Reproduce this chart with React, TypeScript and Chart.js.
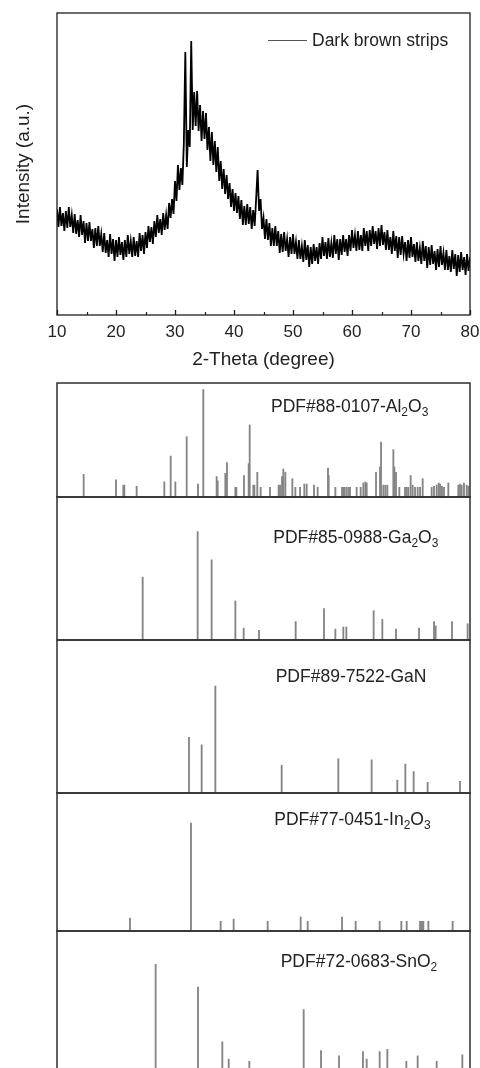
import React, { useEffect, useRef } from 'react';
import { Chart, registerables } from 'chart.js';

Chart.register(...registerables);

const FONT = '"Liberation Sans", Arial, Helvetica, sans-serif';
Chart.defaults.font.family = FONT;
Chart.defaults.color = '#222';

// ---------- XRD scan (top panel) ----------
const scanStart = 10; // 2-theta of first point (degree)
const scanStep = 0.25; // degree per point
const intensity = [
  106, 88, 108, 89, 102, 84, 104, 87,
  108, 88, 100, 82, 101, 81, 95, 78,
  100, 80, 94, 72, 92, 74, 93, 74,
  86, 67, 87, 69, 89, 69, 81, 63,
  82, 62, 75, 58, 81, 61, 76, 54,
  75, 58, 78, 60, 73, 55, 75, 58,
  80, 61, 74, 58, 78, 59, 74, 58,
  82, 64, 80, 61, 83, 67, 89, 73,
  88, 71, 94, 78, 100, 82, 96, 80,
  102, 85, 100, 86, 112, 97, 116, 101,
  134, 114, 150, 125, 147, 130, 172, 263,
  148, 185, 168, 274, 185, 223, 189, 224,
  184, 210, 174, 204, 176, 202, 165, 188,
  154, 183, 150, 174, 143, 168, 134, 154,
  126, 146, 121, 140, 116, 132, 108, 126,
  104, 122, 102, 119, 96, 115, 90, 109,
  90, 111, 91, 108, 86, 105, 89, 116,
  145, 104, 116, 86, 97, 76, 96, 75,
  92, 69, 87, 69, 89, 69, 84, 62,
  81, 63, 83, 64, 76, 58, 78, 61,
  81, 61, 73, 56, 75, 56, 69, 53,
  75, 55, 70, 48, 68, 51, 71, 54,
  68, 51, 72, 56, 78, 59, 73, 56,
  77, 58, 72, 57, 80, 61, 76, 55,
  76, 60, 80, 63, 76, 59, 80, 64,
  85, 67, 80, 64, 84, 65, 80, 64,
  87, 69, 84, 64, 85, 69, 89, 71,
  84, 66, 87, 69, 90, 70, 83, 65,
  85, 65, 78, 61, 84, 64, 79, 57,
  78, 60, 79, 61, 73, 54, 75, 57,
  78, 58, 71, 53, 73, 54, 67, 51,
  74, 54, 69, 47, 68, 50, 70, 51,
  64, 45, 66, 48, 69, 50, 62, 45,
  65, 45, 59, 43, 65, 46, 61, 39,
  60, 43, 63, 45, 58, 40, 61, 44,
  58,
];
const seriesName = 'Dark brown strips';
const xMin = 10;
const xMax = 80;
const majorStep = 10;
const minorTicks = [15, 25, 35, 45, 55, 65, 75];
const yMaxTop = 302;

// ---------- Reference patterns (PDF cards) ----------
const al2o3Theta = [14.52, 20.0, 21.24, 21.41, 23.5, 28.19, 29.27, 30.06, 31.98, 33.9, 34.8, 37.06, 37.23, 38.53, 38.81, 40.23, 40.4, 41.69, 42.49, 42.66, 43.28, 43.45, 43.95, 44.52, 46.1, 47.57, 47.8, 48.14, 48.36, 48.7, 49.89, 50.4, 51.19, 51.92, 52.32, 53.56, 54.18, 55.93, 56.05, 57.18, 58.31, 58.53, 58.76, 59.1, 59.44, 59.66, 60.79, 61.47, 61.92, 62.26, 62.49, 64.07, 64.75, 64.92, 65.31, 65.65, 65.99, 67.01, 67.18, 67.46, 68.02, 68.98, 69.27, 69.55, 69.94, 70.28, 70.68, 71.13, 71.53, 71.98, 73.5, 73.9, 74.35, 74.69, 74.92, 75.25, 75.59, 76.33, 78.02, 78.31, 78.59, 78.98, 79.44, 79.72];
const al2o3Int = [21, 16, 11, 11, 10, 14, 38, 14, 56, 12, 100, 19, 15, 22, 32, 9, 9, 20, 31, 67, 11, 11, 23, 9, 9, 11, 11, 19, 26, 23, 17, 9, 9, 12, 12, 11, 9, 27, 20, 9, 9, 9, 9, 9, 9, 9, 9, 9, 13, 14, 13, 23, 28, 51, 11, 11, 11, 44, 28, 23, 9, 9, 9, 9, 20, 11, 9, 9, 9, 17, 9, 10, 11, 13, 12, 10, 9, 13, 11, 12, 11, 13, 11, 10];

const ga2o3Theta = [24.52, 33.84, 36.21, 40.23, 41.64, 44.24, 50.45, 55.25, 57.18, 58.53, 59.04, 63.67, 65.14, 67.46, 71.36, 73.9, 74.18, 76.95, 79.6];
const ga2o3Int = [58, 100, 74, 36, 11, 9, 17, 29, 10, 12, 12, 27, 19, 10, 11, 17, 13, 17, 15];

const ganTheta = [32.37, 34.52, 36.84, 48.08, 57.68, 63.33, 67.68, 69.04, 70.45, 72.82, 78.31];
const ganInt = [52, 45, 100, 26, 32, 31, 12, 27, 20, 10, 11];

const in2o3Theta = [22.37, 32.71, 37.74, 39.94, 45.71, 51.3, 52.49, 58.31, 60.62, 64.69, 68.36, 69.27, 71.53, 71.86, 72.09, 72.94, 77.06];
const in2o3Int = [12, 100, 9, 11, 9, 13, 9, 13, 9, 9, 9, 9, 9, 9, 9, 9, 9];

const sno2Theta = [26.72, 33.9, 38.02, 39.1, 42.6, 51.81, 54.75, 57.8, 61.86, 62.49, 64.69, 65.99, 69.21, 71.13, 74.35, 78.7];
const sno2Int = [100, 79, 28, 12, 10, 58, 20, 15, 19, 12, 19, 21, 10, 15, 10, 16];

type Seg = { t: string; sub?: boolean };
const al2o3Label: Seg[] = [{ t: 'PDF#88-0107-Al' }, { t: '2', sub: true }, { t: 'O' }, { t: '3', sub: true }];
const ga2o3Label: Seg[] = [{ t: 'PDF#85-0988-Ga' }, { t: '2', sub: true }, { t: 'O' }, { t: '3', sub: true }];
const ganLabel: Seg[] = [{ t: 'PDF#89-7522-GaN' }];
const in2o3Label: Seg[] = [{ t: 'PDF#77-0451-In' }, { t: '2', sub: true }, { t: 'O' }, { t: '3', sub: true }];
const sno2Label: Seg[] = [{ t: 'PDF#72-0683-SnO' }, { t: '2', sub: true }];

// layout (page pixels)
const panels = [
  { theta: al2o3Theta, values: al2o3Int, label: al2o3Label, top: 383, bottom: 497, yMax: 106, labelX: 271, labelBase: 411.7 },
  { theta: ga2o3Theta, values: ga2o3Int, label: ga2o3Label, top: 497, bottom: 640, yMax: 132, labelX: 273.3, labelBase: 542.7 },
  { theta: ganTheta, values: ganInt, label: ganLabel, top: 640, bottom: 793, yMax: 143, labelX: 275.7, labelBase: 681.7 },
  { theta: in2o3Theta, values: in2o3Int, label: in2o3Label, top: 793, bottom: 931, yMax: 128, labelX: 274.3, labelBase: 825 },
  { theta: sno2Theta, values: sno2Int, label: sno2Label, top: 931, bottom: 1072, yMax: 131, labelX: 280.7, labelBase: 966.7 },
];

const PLOT_LEFT = 57;
const PLOT_RIGHT = 470;
const CANVAS_W = 480;

function XrdChart() {
  const ref = useRef<HTMLCanvasElement>(null);
  useEffect(() => {
    if (!ref.current) return;
    const pts = intensity.map((v, i) => ({ x: scanStart + i * scanStep, y: v }));
    const framePlugin = {
      id: 'frameTop',
      afterDraw(chart: any) {
        const { ctx, chartArea } = chart;
        const xs = chart.scales.x;
        ctx.save();
        ctx.strokeStyle = '#1e1e1e';
        ctx.lineWidth = 1.3;
        ctx.strokeRect(chartArea.left, chartArea.top, chartArea.right - chartArea.left, chartArea.bottom - chartArea.top);
        ctx.beginPath();
        for (const v of minorTicks) {
          const px = Math.round(xs.getPixelForValue(v)) + 0.5;
          ctx.moveTo(px, chartArea.bottom);
          ctx.lineTo(px, chartArea.bottom - 3);
        }
        ctx.lineWidth = 1.2;
        ctx.stroke();
        // legend
        const ly = 40;
        ctx.beginPath();
        ctx.moveTo(268, ly + 0.5);
        ctx.lineTo(307, ly + 0.5);
        ctx.strokeStyle = '#555';
        ctx.lineWidth = 1;
        ctx.stroke();
        ctx.fillStyle = '#222';
        ctx.font = `17.5px ${FONT}`;
        ctx.textBaseline = 'alphabetic';
        ctx.textAlign = 'left';
        ctx.fillText(chart.data.datasets[0].label, 312, 46);
        ctx.restore();
      },
    };
    const chart = new Chart(ref.current, {
      type: 'line',
      data: {
        datasets: [
          {
            label: seriesName,
            data: pts,
            borderColor: '#000',
            borderWidth: 1.8,
            pointRadius: 0,
            tension: 0,
            fill: false,
          },
        ],
      },
      options: {
        animation: false,
        responsive: false,
        devicePixelRatio: 1,
        layout: { padding: { left: 0, right: CANVAS_W - PLOT_RIGHT, top: 13, bottom: 0 } },
        plugins: { legend: { display: false }, tooltip: { enabled: false } },
        scales: {
          x: {
            type: 'linear',
            min: xMin,
            max: xMax,
            ticks: { stepSize: majorStep, font: { size: 17 }, color: '#222', padding: 11.8, maxRotation: 0, autoSkip: false },
            grid: { drawOnChartArea: false, drawTicks: true, tickLength: -5, tickColor: '#1e1e1e', tickWidth: 1.3 },
            border: { display: false },
            title: { display: true, text: '2-Theta (degree)', font: { size: 19 }, color: '#222', padding: { top: 0, bottom: 8.6 } },
            afterFit: (s: any) => {
              s.height = 65;
              s.paddingLeft = 0;
              s.paddingRight = 0;
            },
          },
          y: {
            type: 'linear',
            min: 0,
            max: yMaxTop,
            ticks: { display: false },
            grid: { display: false },
            border: { display: false },
            title: { display: true, text: 'Intensity (a.u.)', font: { size: 19 }, color: '#222', padding: { top: 12, bottom: 0 } },
            afterFit: (s: any) => {
              s.width = PLOT_LEFT;
              s.paddingTop = 0;
              s.paddingBottom = 0;
            },
          },
        },
      } as any,
      plugins: [framePlugin],
    });
    // correct any residual layout offset so the plot frame spans 57..470
    const dr = PLOT_RIGHT - chart.chartArea.right;
    if (Math.abs(dr) > 0.5) {
      (chart.options.layout as any).padding = { left: 0, right: CANVAS_W - PLOT_RIGHT - dr, top: 13, bottom: 0 };
      chart.update();
    }
    return () => chart.destroy();
  }, []);
  return <canvas ref={ref} width={CANVAS_W} height={380} style={{ position: 'absolute', left: 0, top: 0 }} />;
}

function StickPanel({ p }: { p: (typeof panels)[number] }) {
  const ref = useRef<HTMLCanvasElement>(null);
  const h = p.bottom - p.top + 4;
  const offTop = p.top - 2;
  useEffect(() => {
    if (!ref.current) return;
    const data = p.theta.map((t, i) => ({ x: t, y: p.values[i] }));
    const panelPlugin = {
      id: 'panelFrame',
      afterDraw(chart: any) {
        const { ctx, chartArea } = chart;
        ctx.save();
        ctx.strokeStyle = '#2e2e2e';
        ctx.lineWidth = 1.5;
        ctx.strokeRect(chartArea.left, chartArea.top, chartArea.right - chartArea.left, chartArea.bottom - chartArea.top);
        let x = p.labelX;
        const base = p.labelBase - offTop;
        ctx.fillStyle = '#222';
        ctx.textAlign = 'left';
        ctx.textBaseline = 'alphabetic';
        for (const seg of p.label) {
          ctx.font = seg.sub ? `12px ${FONT}` : `17.5px ${FONT}`;
          ctx.fillText(seg.t, x, seg.sub ? base + 4 : base);
          x += ctx.measureText(seg.t).width;
        }
        ctx.restore();
      },
    };
    const chart = new Chart(ref.current, {
      type: 'bar',
      data: {
        datasets: [
          {
            label: p.label.map((s) => s.t).join(''),
            data,
            backgroundColor: '#858585',
            borderWidth: 0,
            barThickness: 1.2,
          },
        ],
      },
      options: {
        animation: false,
        responsive: false,
        devicePixelRatio: 1,
        layout: { padding: { left: PLOT_LEFT, right: CANVAS_W - PLOT_RIGHT, top: 2, bottom: 2 } },
        plugins: { legend: { display: false }, tooltip: { enabled: false } },
        scales: {
          x: { type: 'linear', min: xMin, max: xMax, offset: false, display: false },
          y: { type: 'linear', min: 0, max: p.yMax, display: false },
        },
      } as any,
      plugins: [panelPlugin],
    });
    return () => chart.destroy();
  }, []);
  return <canvas ref={ref} width={CANVAS_W} height={h} style={{ position: 'absolute', left: 0, top: offTop }} />;
}

export default function App() {
  return (
    <div style={{ position: 'absolute', left: 0, top: 0, width: 480, height: 1068, overflow: 'hidden', background: '#fff' }}>
      <XrdChart />
      {panels.map((p, i) => (
        <StickPanel key={i} p={p} />
      ))}
    </div>
  );
}
